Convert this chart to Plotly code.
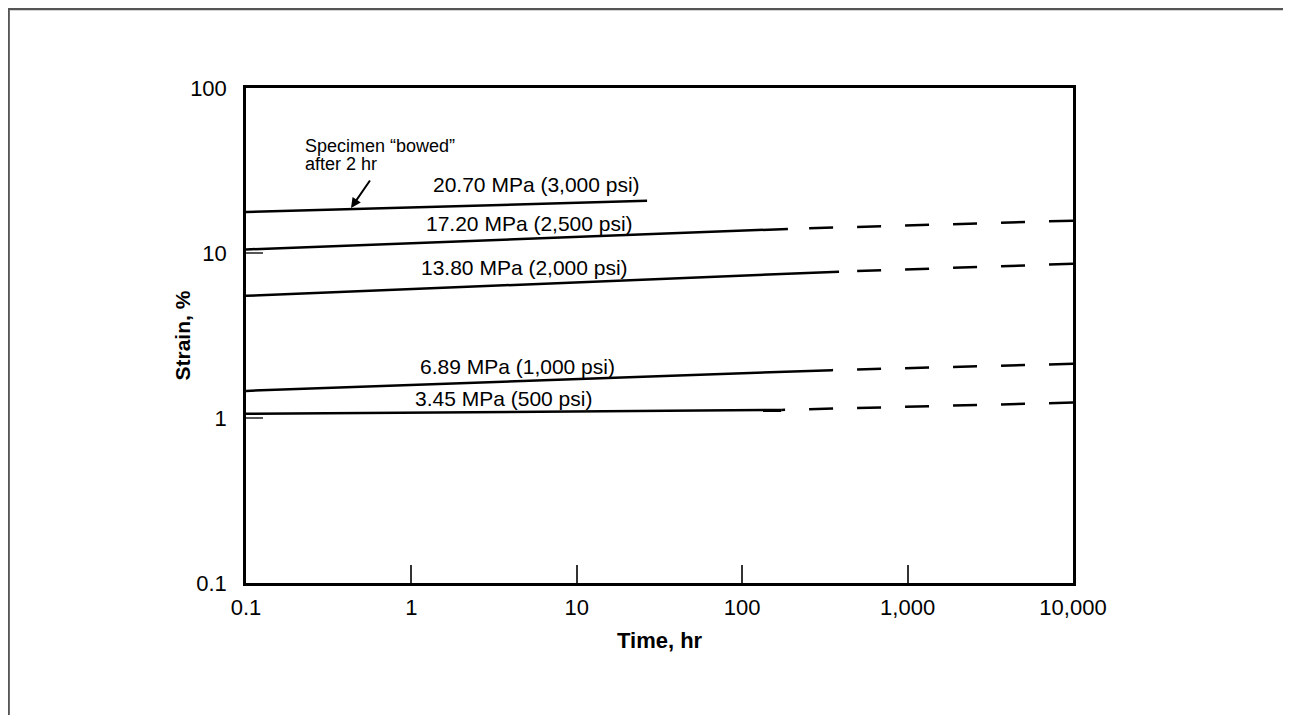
import plotly.graph_objects as go

# ---------------- data ----------------
labels = ["20.70 MPa (3,000 psi)", "17.20 MPa (2,500 psi)", "13.80 MPa (2,000 psi)",
          "6.89 MPa (1,000 psi)", "3.45 MPa (500 psi)"]
solid_time = [[0.1, 26.6], [0.1, 189], [0.1, 385], [0.1, 349], [0.1, 172]]
solid_strain = [[17.7, 20.7], [10.5, 14.0], [5.5, 7.7], [1.46, 1.95], [1.06, 1.12]]
# extrapolated (dashed) part: from end of solid line to 10,000 hr (None = no extension)
dash_end_time = [None, 10000, 10000, 10000, 10000]
dash_end_strain = [None, 15.7, 8.6, 2.13, 1.24]

x_tickvals = [0.1, 1, 10, 100, 1000, 10000]
x_ticktext = ["0.1", "1", "10", "100", "1,000", "10,000"]
y_tickvals = [0.1, 1, 10, 100]
y_ticktext = ["0.1", "1", "10", "100"]

# ---------------- layout geometry (page pixels) ----------------
OFF = 8  # page body margin
W, H = 1291 - OFF, 715 - OFF
L, R, T, B = 246, 1073, 88, 583  # plot area in page pixels


def px(x):
    return (x - L) / (R - L)


def py(y):
    return (B - y) / (B - T)


FONT = "Liberation Sans, Arial, sans-serif"
FS = 21

fig = go.Figure()
for i in range(len(labels)):
    fig.add_trace(go.Scatter(x=solid_time[i], y=solid_strain[i], mode="lines",
                             line=dict(color="black", width=2.5),
                             showlegend=False, hoverinfo="skip"))
    if dash_end_time[i] is not None:
        # drawn right-to-left so the dash pattern is anchored at the right frame
        fig.add_trace(go.Scatter(x=[dash_end_time[i], solid_time[i][1]],
                                 y=[dash_end_strain[i], solid_strain[i][1]],
                                 mode="lines",
                                 line=dict(color="black", width=2.5, dash="24px,24px"),
                                 showlegend=False, hoverinfo="skip"))

annos = []
label_pos = [(536, 184), (529, 223), (524, 267), (517, 366), (503, 398)]
for lab, (ax_, ay_) in zip(labels, label_pos):
    annos.append(dict(text=lab, x=px(ax_), y=py(ay_), xref="paper", yref="paper",
                      showarrow=False, xanchor="center", yanchor="middle",
                      font=dict(family=FONT, size=FS, color="black")))
annos.append(dict(text="Specimen “bowed”", x=px(303), y=py(146), xref="paper", yref="paper",
                  showarrow=False, xanchor="left", yanchor="middle",
                  font=dict(family=FONT, size=18, color="black")))
annos.append(dict(text="after 2 hr", x=px(303), y=py(164), xref="paper", yref="paper",
                  showarrow=False, xanchor="left", yanchor="middle",
                  font=dict(family=FONT, size=18, color="black")))
# arrow
annos.append(dict(text="", x=px(351), y=py(208), xref="paper", yref="paper",
                  showarrow=True, ax=20, ay=-29, arrowhead=2, arrowsize=1,
                  arrowwidth=2, arrowcolor="black"))
# axis titles
annos.append(dict(text="<b>Time, hr</b>", x=0.5, y=py(640), xref="paper", yref="paper",
                  showarrow=False, xanchor="center", yanchor="middle",
                  font=dict(family=FONT, size=22, color="black")))
annos.append(dict(text="<b>Strain, %</b>", x=px(182), y=0.5, xref="paper", yref="paper",
                  showarrow=False, xanchor="center", yanchor="middle", textangle=-90,
                  font=dict(family=FONT, size=21, color="black")))

shapes = [
    # outer figure frame (top and left edges visible)
    dict(type="line", xref="paper", yref="paper", x0=px(8), y0=py(9), x1=px(1300), y1=py(9),
         line=dict(color="#555555", width=2.5)),
    dict(type="line", xref="paper", yref="paper", x0=px(8.6), y0=py(9), x1=px(8.6), y1=py(730),
         line=dict(color="#555555", width=2.5)),
]

fig.update_layout(
    width=W, height=H,
    margin=dict(l=L - OFF, r=W - (R - OFF), t=T - OFF, b=H - (B - OFF)),
    paper_bgcolor="white", plot_bgcolor="white",
    annotations=annos, shapes=shapes,
    font=dict(family=FONT, size=FS, color="black"),
    xaxis=dict(type="log", range=[-1, 4], tickvals=x_tickvals, ticktext=x_ticktext,
               ticks="inside", ticklen=18, tickwidth=1.5, tickcolor="#333333",
               showline=True, mirror=True, linecolor="black", linewidth=2.5,
               showgrid=False, zeroline=False, ticklabelstandoff=3,
               tickfont=dict(family=FONT, size=22, color="black")),
    yaxis=dict(type="log", range=[-1, 2], tickvals=y_tickvals, ticktext=y_ticktext,
               ticks="inside", ticklen=17, tickwidth=1.5, tickcolor="#555555",
               showline=True, mirror=True, linecolor="black", linewidth=2.5,
               showgrid=False, zeroline=False, ticklabelstandoff=12,
               tickfont=dict(family=FONT, size=22, color="black")),
)

fig.write_html("out.html")
